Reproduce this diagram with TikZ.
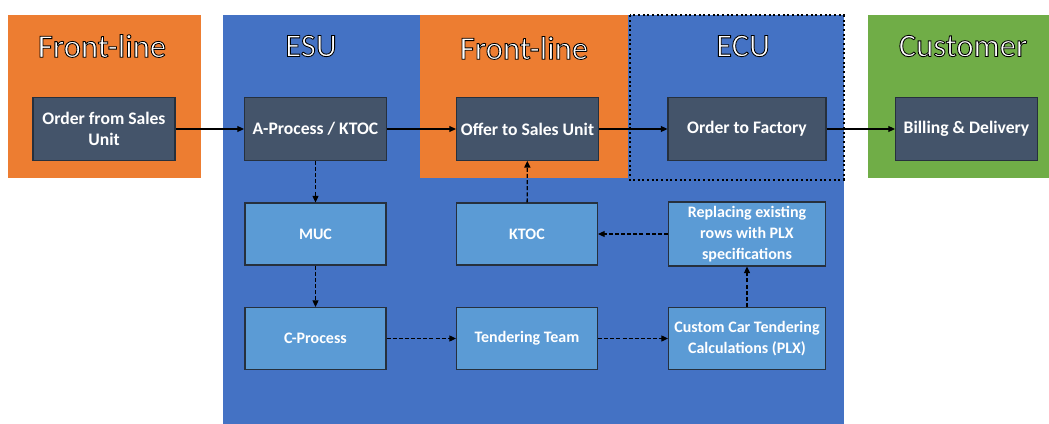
\documentclass[tikz,border=0pt]{standalone}
\usepackage{fontspec}
\setmainfont{Carlito}
\usetikzlibrary{arrows.meta,positioning}

\definecolor{frontOrange}{HTML}{ED7D31}
\definecolor{unitBlue}{HTML}{4472C4}
\definecolor{custGreen}{HTML}{70AD47}
\definecolor{darkBox}{HTML}{44546A}
\definecolor{lightBox}{HTML}{5B9BD5}
\definecolor{boxLine}{HTML}{26303D}

% white letters with a thin black outline
\newcommand{\outlined}[1]{\special{pdf:literal direct 2 Tr 0.65 w 0 0 0 RG}#1\special{pdf:literal direct 0 Tr}}

\begin{document}
\begin{tikzpicture}[x=0.75pt,y=-0.75pt,
			title node/.style={text=white,font=\fontsize{24.5}{27}\selectfont},
			dark node/.style={rectangle,draw=boxLine,line width=0.8pt,fill=darkBox,text=white,align=center,
				font=\bfseries\fontsize{13.2}{16}\selectfont,minimum width=106.5pt,minimum height=47pt},
			light node/.style={dark node,fill=lightBox,font=\bfseries\fontsize{12}{15.5}\selectfont,
				minimum width=105.75pt,minimum height=46.5pt},
			flow/.style={-{Triangle[length=5pt,width=4.5pt]},line width=0.8pt},
			side flow/.style={flow,line width=1pt,dash pattern=on 3pt off 1.6pt}
			]

			\useasboundingbox (0,0) rectangle (1049,424);

			% regions
			\fill[frontOrange] (8,15) rectangle (201,178);
			\fill[unitBlue] (223,15) rectangle (844,424);
			\fill[frontOrange] (420,15) rectangle (628,178);
			\fill[custGreen] (868,15) rectangle (1049,178);
			\draw[line width=1.5pt,dotted] (629.5,15.5) rectangle (843.5,180);

			\node[title node] (t1) at (102,46) {\outlined{Front-line}};
			\node[title node] (t2) at (311,46) {\outlined{ESU}};
			\node[title node] (t3) at (524,48) {\outlined{Front-line}};
			\node[title node] (t4) at (743,46) {\outlined{ECU}};
			\node[title node] (t5) at (963,46) {\outlined{Customer}};

			% main line
			\node[dark node] (sales) at (104,129) {Order from Sales\\Unit};
			\node[dark node] (aproc) at (315.5,129) {A-Process / KTOC};
			\node[dark node] (offer) at (527.5,129) {Offer to Sales Unit};
			\node[dark node,minimum width=118.5pt] (factory) at (747,129) {Order to Factory};
			\node[dark node] (billing) at (966.5,129) {Billing \& Delivery};

			% tendering loop
			\node[light node] (muc) at (315.5,234) {MUC};
			\node[light node] (ktoc) at (527,234) {KTOC};
			\node[light node,minimum width=117.75pt] (replace) at (747,234) {Replacing existing\\rows with PLX\\specifications};
			\node[light node] (cproc) at (315.5,338.5) {C-Process};
			\node[light node] (tender) at (527,338.5) {Tendering Team};
			\node[light node,minimum width=117.75pt] (custom) at (747,338.5) {Custom Car Tendering\\Calculations (PLX)};

			\foreach \a/\b in {sales/aproc,aproc/offer,offer/factory,factory/billing}
				\draw[flow] (\a) -- (\b);

			\foreach \a/\b in {aproc/muc,muc/cproc,cproc/tender,tender/custom,custom/replace,replace/ktoc,ktoc/offer}
				\draw[side flow] (\a) -- (\b);
		\end{tikzpicture}
\end{document}
